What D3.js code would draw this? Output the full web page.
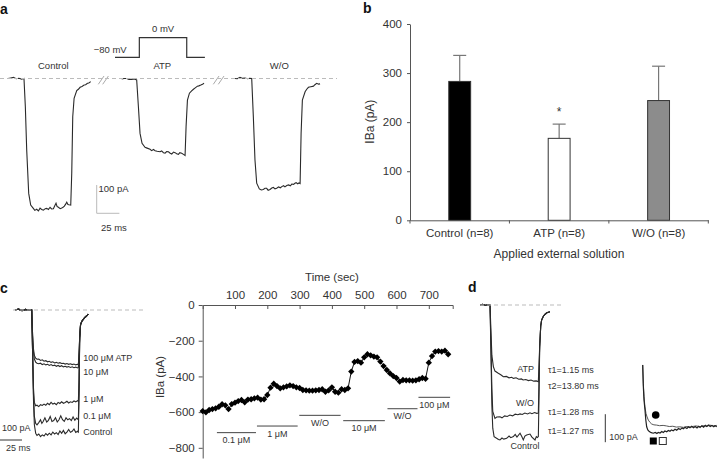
<!DOCTYPE html>
<html><head><meta charset="utf-8">
<script src="https://cdn.jsdelivr.net/npm/d3@7"></script>
<style>
body{margin:0;background:#fff}
text{font-family:"Liberation Sans",Arial,sans-serif;fill:#333}
</style>
</head><body>
<svg id="fig" width="717" height="460"></svg>
<script>
// ---------------- DATA ----------------
// Panel b
const barCategories = ["Control (n=8)", "ATP (n=8)", "W/O (n=8)"];
const barValues = [283, 167, 244];
const barErrors = [53, 29, 70];
const barTicks = [0, 100, 200, 300, 400];
const barColors = ["#000000", "#ffffff", "#8c8c8c"];

// Panel c time course (time in s, IBa in pA)
const timeSec = [0,10,20,30,40,50,60,70,80,90,100,110,120,130,140,150,160,170,180,190,200,210,220,230,240,250,260,270,280,290,300,310,320,330,340,350,360,370,380,390,400,410,420,430,440,450,460,470,480,490,500,510,520,530,540,550,560,570,580,590,600,610,620,630,640,650,660,670,680,690,700,710,720,730,740,750,760];
const currentPA = [-594,-601,-588,-583,-579,-570,-556,-562,-583,-555,-547,-538,-532,-545,-530,-528,-523,-519,-530,-528,-504,-463,-441,-454,-467,-461,-456,-450,-454,-461,-465,-476,-478,-480,-480,-478,-476,-472,-486,-478,-461,-486,-491,-472,-476,-467,-373,-319,-314,-323,-293,-276,-282,-289,-293,-317,-342,-364,-383,-398,-409,-429,-420,-422,-422,-424,-422,-416,-409,-413,-323,-286,-261,-258,-261,-256,-276];
const timeTicks = [100, 200, 300, 400, 500, 600, 700];
const currentTicks = [0, -200, -400, -600, -800];
const condLabels = ["0.1 μM", "1 μM", "W/O", "10 μM", "W/O", "100 μM"];
const condStart = [44, 168, 299, 435, 572, 668];
const condEnd = [165, 294, 427, 564, 665, 766];
const condLevel = [-715, -678, -618, -648, -581, -517];

// Panel a traces ([ms, pA])
const traceAControl = [[0,0],[3,2],[6,4],[9,-1],[12,1],[15,-2],[17.6,0],[19.1,-100],[20.6,-253],[22.8,-406],[25,-447],[27.9,-459],[29.5,-466],[31.6,-462],[33.5,-468],[35.3,-458],[37,-463],[39,-465],[41,-460],[42.6,-459],[44.5,-463],[46.3,-455],[48,-461],[50,-460],[51.5,-450],[52.9,-441],[54,-452],[55.5,-455],[57.5,-460],[59.2,-458],[61,-454],[62.1,-451],[63.5,-444],[64.7,-437],[66,-445],[67.3,-446],[69.1,-447],[70.2,-335],[71.3,-135],[72.8,-70],[75.7,-43],[77.5,-38],[79.4,-31],[81.5,-28],[83.8,-23],[85.5,-22],[87.5,-17],[89,-16],[91.1,-11]];
const traceAATP = [[0,-2],[2.5,0],[5.5,0],[8,-3],[11,-3],[14,-2],[16.5,-5],[18.4,-100],[20.2,-194],[22.4,-229],[25.7,-243],[28,-246],[31.2,-250],[33,-255],[35,-251],[36.8,-255],[39,-257],[42.3,-259],[44,-256],[46,-262],[47.8,-264],[49.5,-258],[51.5,-259],[53,-263],[55.1,-267],[57,-260],[58.8,-262],[60.5,-266],[62.5,-268],[64,-262],[66.1,-264],[68,-268],[69.8,-272],[70.9,-170],[72.4,-76],[74.6,-52],[77,-44],[79,-38],[81,-33],[83.4,-27],[85,-26],[87.1,-23],[89,-20],[90.7,-17]];
const traceAWO = [[0,0],[2.5,-1],[5.5,4],[8,1],[11,2],[14,-1],[16,1],[18.4,0],[20.2,-135],[22,-288],[23.9,-370],[26.8,-390],[29,-394],[31.2,-392],[33,-388],[34.9,-388],[36.5,-395],[38.6,-392],[40.5,-387],[42.3,-385],[44,-390],[45.9,-388],[48,-383],[50,-386],[51.5,-382],[53.5,-379],[55,-383],[57,-378],[59,-376],[61,-379],[62.5,-373],[64.5,-374],[66,-370],[67.3,-368],[69,-372],[70.5,-369],[71.7,-371],[72.8,-194],[74.2,-76],[77.2,-47],[79,-38],[80.9,-31],[83.5,-29],[86.4,-27],[88,-22],[90,-17],[92,-20],[93.7,-19]];
const traceALabels = ["Control", "ATP", "W/O"];
const protocolT = [0, 26.8, 26.8, 79, 79, 99];
const protocolMV = [-80, -80, 0, 0, -80, -80];

// Panel c concentration traces ([ms, pA])
const cBase = [[0,0],[4,3],[8,-2],[12,2],[16,-1],[19,0]];
const cRise = [[73.5,-100],[74.5,-52],[76,-40],[78,-32],[80,-25],[82,-19],[83.3,-15]];
const traceCControl = [[20,-150],[21,-320],[22,-410],[23.5,-440],[25,-448],[27,-443],[29,-452],[31,-446],[33,-450],[35,-441],[37,-447],[39,-440],[41,-446],[43,-436],[45,-443],[47,-438],[49,-445],[51,-432],[53,-440],[55,-430],[57,-442],[59,-436],[61,-427],[63,-437],[65,-433],[67,-425],[69,-437],[71,-433],[72,-436],[72.8,-300]];
const traceC01 = [[20,-150],[21,-300],[22,-380],[23.5,-405],[25,-410],[27,-402],[29,-392],[30.5,-405],[32,-398],[34,-385],[36,-400],[38,-394],[40,-380],[42,-398],[44,-395],[46,-385],[48,-400],[50,-392],[52,-378],[54,-392],[56,-398],[58,-385],[60,-392],[62,-388],[64,-395],[66,-382],[68,-394],[70,-386],[72,-392],[72.8,-280]];
const traceC1 = [[20,-150],[21,-280],[22,-330],[23.5,-342],[25,-340],[27,-345],[29,-338],[31,-341],[33,-336],[35,-340],[37,-333],[39,-338],[41,-330],[43,-336],[45,-333],[47,-338],[49,-330],[51,-334],[53,-328],[55,-333],[57,-330],[59,-326],[61,-332],[63,-328],[65,-330],[67,-325],[69,-328],[71,-324],[72,-326],[72.8,-250]];
const traceC10 = [[20,-90],[21,-150],[22,-175],[23.5,-186],[25,-190],[27,-192],[29,-190],[31,-195],[33,-192],[35,-196],[37,-194],[39,-198],[41,-195],[43,-199],[45,-197],[47,-201],[49,-198],[51,-202],[53,-199],[55,-203],[57,-201],[59,-204],[61,-202],[63,-205],[65,-203],[67,-206],[69,-204],[71,-207],[72,-205],[72.8,-150]];
const traceC100 = [[20,-90],[21,-140],[22,-162],[23.5,-172],[25,-176],[27,-175],[29,-180],[31,-178],[33,-183],[35,-181],[37,-185],[39,-183],[41,-187],[43,-185],[45,-189],[47,-187],[49,-190],[51,-188],[53,-191],[55,-190],[57,-193],[59,-191],[61,-194],[63,-192],[65,-195],[67,-193],[69,-196],[71,-194],[72,-195],[72.8,-150]];
const cLabels = ["100 μM ATP", "10 μM", "1 μM", "0.1 μM", "Control"];

// Panel d traces ([ms, pA])
const dBase = [[0,0],[3,2],[6,-1],[9,1],[11.4,0]];
const dRise = [[67.8,-150],[69,-75],[70,-54],[72,-40],[74,-33],[76,-28],[79.5,-24]];
const traceDATP = [[12.5,-100],[13.5,-180],[15.2,-220],[17,-236],[20.8,-244],[24,-250],[26.5,-256],[30,-255],[33,-260],[36,-258],[38,-262],[41,-260],[44,-265],[47,-264],[49,-268],[52,-266],[55,-270],[58,-268],[61,-272],[64,-271],[66.3,-274],[67.2,-200]];
const traceDWO = [[12.5,-150],[13.5,-300],[14.5,-380],[17,-405],[19,-400],[22.7,-399],[25,-403],[28,-396],[31,-398],[34,-393],[37,-396],[40,-390],[43,-392],[45.5,-389],[48,-391],[51,-386],[54,-389],[56.8,-385],[59,-388],[62,-384],[64.4,-387],[66.3,-386],[67.2,-250]];
const traceDControl = [[12.5,-180],[13.5,-360],[14.5,-440],[16,-470],[18.9,-476],[21,-480],[22.7,-482],[25,-475],[27,-479],[30.3,-476],[33,-468],[35,-474],[37.9,-470],[40,-462],[42,-472],[45.5,-458],[47.5,-470],[49.2,-482],[51,-468],[53,-464],[56.8,-461],[59,-472],[62.5,-482],[64,-470],[65.2,-473],[66.3,-470],[67.2,-300]];
const tailUpper = [[0.8,-214],[1.5,-280],[2.3,-327],[3.3,-362],[4.5,-387],[5.8,-400],[7.2,-411],[9,-419],[11,-425],[13.5,-428],[16.7,-429],[20,-431],[24,-430],[28,-432],[31,-434],[35,-433],[39,-436],[43,-435],[47,-437],[51,-434],[55,-436],[59,-433],[62,-432],[66,-435],[70,-431],[74,-433],[77,-429],[81,-432],[85,-430]];
const tailLower = [[0.8,-214],[1.5,-290],[2.3,-340],[3.4,-375],[4.3,-410],[5.3,-435],[6.6,-446],[8.3,-452],[10.5,-456],[12.8,-458],[15,-455],[17,-459],[18.5,-455],[20.5,-457],[22.5,-452],[24.2,-455],[26,-450],[28,-453],[30,-448],[31.8,-451],[33.5,-446],[35.5,-449],[37.5,-444],[39.4,-447],[41.5,-441],[43.5,-445],[45.5,-439],[47,-442],[49,-437],[51,-441],[53,-435],[54.5,-438],[56.5,-433],[58.5,-438],[60.5,-434],[62.5,-439],[64.5,-433],[66,-437],[68,-431],[70,-436],[72,-430],[73.5,-434],[75.5,-429],[77.5,-434],[79.5,-430],[81.5,-435],[83,-431],[85,-435]];
const tauLabels = ["τ1=1.15 ms", "τ2=13.80 ms", "τ1=1.28 ms", "τ1=1.27 ms"];

// ---------------- DRAW ----------------
const svg = d3.select("#fig");
const FONT = '"Liberation Sans", Arial, sans-serif';
const traceColor = "#2a2a2a";
const line = (xs, ys) => d3.line().x(d => xs(d[0])).y(d => ys(d[1]));

function panelLabel(t, x, y) {
  svg.append("text").attr("x", x).attr("y", y).attr("font-size", 14).attr("font-weight", "bold").style("fill", "#111").text(t);
}
function txt(g, t, x, y, size, anchor) {
  return g.append("text").attr("x", x).attr("y", y).attr("font-size", size).attr("text-anchor", anchor || "start").text(t);
}
function dashed(x1, x2, y) {
  svg.append("line").attr("x1", x1).attr("x2", x2).attr("y1", y).attr("y2", y)
    .attr("stroke", "#bbb").attr("stroke-width", 1).attr("stroke-dasharray", "4,3");
}

// ===== Panel a =====
panelLabel("a", 0, 14);
const aG = svg.append("g");
const aY = d3.scaleLinear().domain([0, -100]).range([78.5, 106.8]);
const aOffsets = [8, 121.7, 235];
dashed(0, 337, aY(0));
[traceAControl, traceAATP, traceAWO].forEach((tr, i) => {
  const xs = d3.scaleLinear().domain([0, 25]).range([aOffsets[i], aOffsets[i] + 22.7]);
  aG.append("path").attr("d", line(xs, aY)(tr)).attr("fill", "none").attr("stroke", traceColor).attr("stroke-width", 1.1);
  txt(aG, traceALabels[i], xs(0) + [45.3, 40.6, 44.3][i], 69, 9.5, "middle");
});
// break marks
[[98.3, 102.7], [213.3, 218.3]].forEach(p => p.forEach(x0 => {
  aG.append("line").attr("x1", x0).attr("y1", 84.3).attr("x2", x0 + 5.7).attr("y2", 76).attr("stroke", "#aaa").attr("stroke-width", 1);
}));
// voltage protocol
const vX = d3.scaleLinear().domain([0, 25]).range([115, 137.7]);
const vY = d3.scaleLinear().domain([-80, 0]).range([57.3, 37.7]);
aG.append("path").attr("d", d3.line().x((d, i) => vX(protocolT[i])).y(d => vY(d))(protocolMV))
  .attr("fill", "none").attr("stroke", "#333").attr("stroke-width", 1.2);
txt(aG, "0 mV", vX(53), 32, 9.5, "middle");
txt(aG, "−80 mV", 126.7, 53, 9.5, "end");
// scale bar a
{
  const sx = d3.scaleLinear().domain([0, 25]).range([96.7, 119.4]);
  const sy = d3.scaleLinear().domain([0, 100]).range([213.3, 185]);
  aG.append("path").attr("d", `M${sx(0)},${sy(100)}V${sy(0)}H${sx(25)}`).attr("fill", "none").attr("stroke", "#bbb").attr("stroke-width", 1);
  txt(aG, "100 pA", 98.5, 192, 9.5);
  txt(aG, "25 ms", 101, 231, 9.5);
}

// ===== Panel b =====
panelLabel("b", 363, 13);
const bG = svg.append("g");
const bX = d3.scaleBand().domain(barCategories).range([410, 708.3]).paddingInner(0.78).paddingOuter(0.39);
const bY = d3.scaleLinear().domain([0, 400]).range([220.3, 24]);
const bEdges = d3.scaleBand().domain(barCategories).range([410, 708.3]);
// error bars
barCategories.forEach((c, i) => {
  const cx = bX(c) + bX.bandwidth() / 2;
  bG.append("line").attr("x1", cx).attr("x2", cx).attr("y1", bY(barValues[i])).attr("y2", bY(barValues[i] + barErrors[i])).attr("stroke", "#777").attr("stroke-width", 1.2);
  bG.append("line").attr("x1", cx - 6.5).attr("x2", cx + 6.5).attr("y1", bY(barValues[i] + barErrors[i])).attr("y2", bY(barValues[i] + barErrors[i])).attr("stroke", "#777").attr("stroke-width", 1.2);
});
bG.selectAll("rect.bar").data(barCategories).join("rect").attr("class", "bar")
  .attr("x", d => bX(d)).attr("width", bX.bandwidth())
  .attr("y", (d, i) => bY(barValues[i])).attr("height", (d, i) => bY(0) - bY(barValues[i]))
  .attr("fill", (d, i) => barColors[i]).attr("stroke", "#333").attr("stroke-width", 1);
txt(bG, "*", bX(barCategories[1]) + bX.bandwidth() / 2, bY(barValues[1] + barErrors[1]) - 8, 12, "middle");
// y axis
const bYAxis = bG.append("g").attr("transform", "translate(410,0)")
  .call(d3.axisLeft(bY).tickValues(barTicks).tickSize(3).tickSizeOuter(0).tickPadding(5));
bYAxis.selectAll("text").attr("font-size", 11.5).attr("font-family", FONT).style("fill", "#333");
bYAxis.selectAll("line,path").attr("stroke", "#555");
// x axis
const bXAxis = bG.append("g").attr("transform", "translate(0,220.3)")
  .call(d3.axisBottom(bX).tickSize(0).tickPadding(9));
bXAxis.selectAll("text").attr("font-size", 11.5).attr("font-family", FONT).style("fill", "#333");
bXAxis.select("path").attr("stroke", "#555");
barCategories.forEach(c => {
  const xe = bEdges(c);
  bG.append("line").attr("x1", xe).attr("x2", xe).attr("y1", 220.3).attr("y2", 223.5).attr("stroke", "#555");
});
bG.append("line").attr("x1", 708.3).attr("x2", 708.3).attr("y1", 220.3).attr("y2", 223.5).attr("stroke", "#555");
txt(bG, "Applied external solution", 559, 257.5, 12, "middle");
txt(bG, "IBa (pA)", 0, 0, 12, "middle").attr("transform", "translate(374,121.7) rotate(-90)");

// ===== Panel c (left traces) =====
panelLabel("c", 0, 293);
const cG = svg.append("g");
const cX = d3.scaleLinear().domain([0, 25]).range([15, 37]);
const cY = d3.scaleLinear().domain([0, -100]).range([310, 338]);
dashed(13, 143, cY(0));
[traceCControl, traceC01, traceC1, traceC10, traceC100].forEach(tr => {
  const full = cBase.concat(tr, cRise);
  cG.append("path").attr("d", line(cX, cY)(full)).attr("fill", "none").attr("stroke", traceColor).attr("stroke-width", 1.1);
});
[360.5, 375, 401.5, 419, 435].forEach((yb, i) => txt(cG, cLabels[i], 83.3, yb, 9));
cG.append("line").attr("x1", 0).attr("x2", cX(25) - 15).attr("y1", 440).attr("y2", 440).attr("stroke", "#333");
txt(cG, "100 pA", 2, 431, 9);
txt(cG, "25 ms", 6, 451, 9);

// ===== Panel c (time course) =====
const tG = svg.append("g");
const tX = d3.scaleLinear().domain([0, 774]).range([202.7, 452.7]);
const tY = d3.scaleLinear().domain([0, -857]).range([305, 458]);
const tXAxis = tG.append("g").attr("transform", `translate(0,${tY(0)})`)
  .call(d3.axisTop(tX).tickValues(timeTicks).tickSizeInner(-4).tickSizeOuter(-4).tickPadding(6));
tXAxis.selectAll("text").attr("font-size", 11.5).attr("font-family", FONT).style("fill", "#333");
tXAxis.selectAll("line,path").attr("stroke", "#555");
const tYAxis = tG.append("g").attr("transform", `translate(${tX(0)},0)`)
  .call(d3.axisLeft(tY).tickValues(currentTicks).tickSize(4).tickSizeOuter(0).tickPadding(4));
tYAxis.selectAll("text").attr("font-size", 11.5).attr("font-family", FONT).style("fill", "#333");
tYAxis.selectAll("line,path").attr("stroke", "#555");
txt(tG, "Time (sec)", 332, 281, 11.5, "middle");
txt(tG, "IBa (pA)", 0, 0, 11.5, "middle").attr("transform", "translate(164,377) rotate(-90)");
const pts = timeSec.map((t, i) => [t, currentPA[i]]);
tG.append("path").attr("d", line(tX, tY)(pts)).attr("fill", "none").attr("stroke", "#111").attr("stroke-width", 1);
tG.selectAll("path.pt").data(pts).join("path").attr("class", "pt")
  .attr("d", d3.symbol(d3.symbolSquare, 20)())
  .attr("transform", d => `translate(${tX(d[0])},${tY(d[1])}) rotate(45)`)
  .attr("fill", "#000");
condLabels.forEach((lab, i) => {
  tG.append("line").attr("x1", tX(condStart[i])).attr("x2", tX(condEnd[i])).attr("y1", tY(condLevel[i])).attr("y2", tY(condLevel[i])).attr("stroke", "#444").attr("stroke-width", 1);
  txt(tG, lab, (tX(condStart[i]) + tX(condEnd[i])) / 2, tY(condLevel[i]) + 10.5, 9, "middle");
});

// ===== Panel d =====
panelLabel("d", 468, 292);
const dG = svg.append("g");
const dX = d3.scaleLinear().domain([0, 25]).range([480, 502]);
const dY = d3.scaleLinear().domain([0, -100]).range([305, 333]);
dashed(480, 563, dY(0));
[traceDATP, traceDWO, traceDControl].forEach(tr => {
  const full = dBase.concat(tr, dRise);
  dG.append("path").attr("d", line(dX, dY)(full)).attr("fill", "none").attr("stroke", traceColor).attr("stroke-width", 1.1);
});
txt(dG, "ATP", 534, 372, 9, "end");
txt(dG, "W/O", 534, 406, 9, "end");
txt(dG, "Control", 525, 449, 9, "middle");
[372.5, 389, 415, 434].forEach((yb, i) => txt(dG, tauLabels[i], 548, yb, 9));
dG.append("line").attr("x1", 605.3).attr("x2", 605.3).attr("y1", dY(-390)).attr("y2", dY(-490)).attr("stroke", "#333");
txt(dG, "100 pA", 609.3, 440, 9);
const tailX = d3.scaleLinear().domain([0, 25]).range([642, 664]);
dG.append("path").attr("d", line(tailX, dY)(tailUpper)).attr("fill", "none").attr("stroke", "#555").attr("stroke-width", 1);
dG.append("path").attr("d", line(tailX, dY)(tailLower)).attr("fill", "none").attr("stroke", "#222").attr("stroke-width", 1.2);
dG.append("circle").attr("cx", 655.7).attr("cy", 415).attr("r", 3.8).attr("fill", "#000");
dG.append("rect").attr("x", 649.8).attr("y", 437.5).attr("width", 7).attr("height", 7).attr("fill", "#000");
dG.append("rect").attr("x", 659.3).attr("y", 437.5).attr("width", 7).attr("height", 7).attr("fill", "#fff").attr("stroke", "#333");
</script>
</body></html>
